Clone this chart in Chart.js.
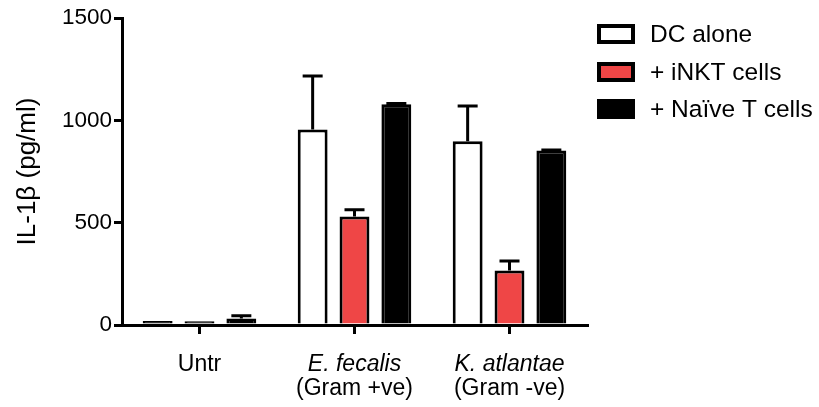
<!DOCTYPE html>
<html>
<head>
<meta charset="utf-8">
<script src="https://cdn.jsdelivr.net/npm/chart.js@4.4.1/dist/chart.umd.min.js"></script>
<style>
  body { margin: 0; background: #fff; }
  #wrap { width: 819px; height: 407px; position: relative; }
</style>
</head>
<body>
<div id="wrap"><canvas id="il1bChart"></canvas></div>
<script>
// ===============================
// Data
// ===============================
const categories = ["Untr", "E. fecalis", "K. atlantae"];
const subLabels = ["", "(Gram +ve)", "(Gram -ve)"];
const italicLabel = [false, true, true];

const seriesNames = ["DC alone", "+ iNKT cells", "+ Naïve T cells"];

const dcAlone = [20, 955, 898];
const dcAloneErr = [0, 262, 172];

const inkt = [18, 530, 266];
const inktErr = [0, 33, 47];

const naive = [32, 1078, 852];
const naiveErr = [13, 4, 3];

const yTicks = [0, 500, 1000, 1500];

const FONT = "'Liberation Sans', Arial, Helvetica, sans-serif";
const RED = "#ef4646";
const BORDER = 3;

// bars thinner than their outline show as solid outline colour
function fillFor(color) {
  return function (context) {
    const y = context.chart.scales.y;
    if (!y || context.raw === undefined) return color;
    const h = y.getPixelForValue(0) - y.getPixelForValue(context.raw);
    return h < BORDER * 2 ? "#000000" : color;
  };
}

// ===============================
// Error bars (upper only)
// ===============================
const errorBars = {
  id: "errorBars",
  afterDatasetsDraw(chart) {
    const { ctx } = chart;
    const yScale = chart.scales.y;
    chart.data.datasets.forEach((ds, di) => {
      const meta = chart.getDatasetMeta(di);
      meta.data.forEach((bar, i) => {
        const err = ds.errors[i];
        if (!err) return;
        const top = yScale.getPixelForValue(ds.data[i] + err);
        ctx.save();
        ctx.strokeStyle = "#000";
        ctx.lineWidth = 3;
        ctx.beginPath();
        ctx.moveTo(bar.x, bar.y);
        ctx.lineTo(bar.x, top);
        ctx.moveTo(bar.x - 10, top);
        ctx.lineTo(bar.x + 10, top);
        ctx.stroke();
        ctx.restore();
      });
    });
  },
};

// ===============================
// Category labels (mixed italic / regular)
// ===============================
const categoryLabels = {
  id: "categoryLabels",
  afterDraw(chart) {
    const { ctx } = chart;
    const xScale = chart.scales.x;
    ctx.save();
    ctx.fillStyle = "#000";
    ctx.textAlign = "center";
    ctx.textBaseline = "alphabetic";
    categories.forEach((label, i) => {
      const x = xScale.getPixelForValue(i);
      ctx.font = (italicLabel[i] ? "italic " : "") + "23px " + FONT;
      ctx.fillText(label, x, 371);
      if (subLabels[i]) {
        ctx.font = "23px " + FONT;
        ctx.fillText(subLabels[i], x, 395);
      }
    });
    ctx.restore();
  },
};

// ===============================
// Legend
// ===============================
const legendFills = ["#ffffff", RED, "#000000"];

const sideLegend = {
  id: "sideLegend",
  afterDraw(chart) {
    const { ctx } = chart;
    const rows = [34, 72, 109];
    ctx.save();
    seriesNames.forEach((name, i) => {
      const y = rows[i];
      ctx.fillStyle = legendFills[i];
      ctx.fillRect(599, y - 8, 34, 16);
      ctx.strokeStyle = "#000";
      ctx.lineWidth = 4;
      ctx.strokeRect(599, y - 8, 34, 16);
      ctx.fillStyle = "#000";
      ctx.font = "24.5px " + FONT;
      ctx.textAlign = "left";
      ctx.textBaseline = "middle";
      ctx.fillText(name, 650, y + 1);
    });
    ctx.restore();
  },
};

const barStyle = {
  borderColor: "#000000",
  borderWidth: BORDER,
  borderSkipped: "start",
  categoryPercentage: 0.81,
  barPercentage: 0.714,
};

new Chart(document.getElementById("il1bChart"), {
  type: "bar",
  data: {
    labels: categories,
    datasets: [
      { label: seriesNames[0], data: dcAlone, errors: dcAloneErr, backgroundColor: fillFor("#ffffff"), ...barStyle },
      { label: seriesNames[1], data: inkt, errors: inktErr, backgroundColor: fillFor(RED), ...barStyle },
      { label: seriesNames[2], data: naive, errors: naiveErr, backgroundColor: "#000000", ...barStyle },
    ],
  },
  options: {
    responsive: true,
    maintainAspectRatio: false,
    animation: false,
    layout: {
      padding: { top: 18, right: 232, left: 0, bottom: 0 },
    },
    plugins: {
      legend: { display: false },
      tooltip: { enabled: false },
    },
    scales: {
      x: {
        grid: {
          display: true,
          offset: false,
          drawOnChartArea: false,
          drawTicks: true,
          tickLength: 9,
          color: "#000",
          lineWidth: 3,
        },
        border: { display: true, color: "#000", width: 3 },
        ticks: { display: false },
        afterFit(scale) {
          scale.height = 82;
        },
      },
      y: {
        min: 0,
        max: 1500,
        afterBuildTicks(scale) {
          scale.ticks = yTicks.map((v) => ({ value: v }));
        },
        ticks: {
          color: "#000",
          padding: 2,
          font: { family: FONT, size: 22.5 },
          callback: function (value) {
            return String(value);
          },
        },
        grid: {
          drawOnChartArea: false,
          drawTicks: true,
          tickLength: 8,
          color: "#000",
          lineWidth: 3,
        },
        border: { display: true, color: "#000", width: 3 },
        title: {
          display: true,
          text: "IL-1β (pg/ml)",
          color: "#000",
          font: { family: FONT, size: 26 },
          padding: { top: 12, bottom: 0 },
        },
        afterFit(scale) {
          scale.width = 122;
        },
      },
    },
  },
  plugins: [errorBars, categoryLabels, sideLegend],
});
</script>
</body>
</html>
